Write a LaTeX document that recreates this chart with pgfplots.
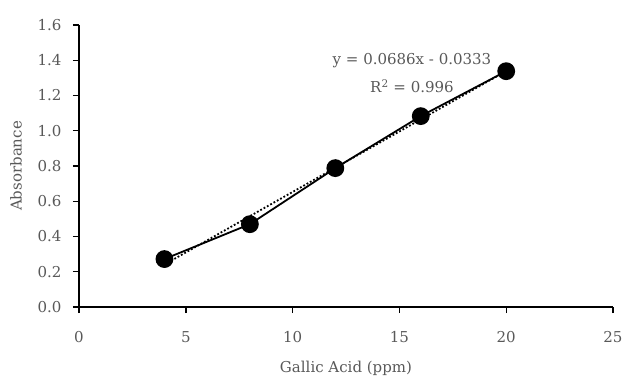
\documentclass[border=0pt]{standalone}
\usepackage{pgfplots}
\pgfplotsset{compat=1.18}
\usepackage{fontspec}
\setmainfont{DejaVu Serif}
\definecolor{txt}{HTML}{595959}
\newcommand{\f}{\fontsize{15}{18}\selectfont}
\begin{document}
\begin{tikzpicture}
\begin{axis}[
  scale only axis, width=534pt, height=282pt,
  at={(0,0)}, anchor=south west,
  xmin=0, xmax=25, ymin=0, ymax=1.6,
  xtick={0,5,...,25}, ytick={0,0.2,...,1.6},
  axis x line*=bottom, axis y line*=left,
  axis line style={black, line width=1.4pt, -},
  tick style={black, line width=1.4pt},
  tick align=outside, major tick length=6pt,
  xticklabel style={font=\f, text=txt, yshift=-15pt},
  yticklabel style={font=\f, text=txt, xshift=-8pt},
  /pgf/number format/assume math mode=true,
  yticklabel={\pgfmathprintnumber[fixed,fixed zerofill,precision=1]{\tick}},
  xlabel={Gallic Acid (ppm)}, ylabel={Absorbance},
  xlabel style={font=\f, text=txt, yshift=-11pt},
  ylabel style={font=\f, text=txt, yshift=9pt},
  clip=false,
]
\addplot[black, line width=1.8pt, mark=*, mark size=8pt] coordinates {
  (4,0.272) (8,0.470) (12,0.788) (16,1.083) (20,1.338)
};
\addplot[black, line width=1.8pt, dotted] coordinates {
  (4,0.241) (20,1.339)
};
\node[font=\f, text=txt] at (axis cs:15.59,1.396) {y = 0.0686x - 0.0333};
\node[font=\f, text=txt] at (axis cs:15.59,1.254) {R\textsuperscript{2} = 0.996};
\end{axis}
\pgfresetboundingbox
\path[use as bounding box] (-79pt,-69pt) rectangle (547pt,307pt);
\end{tikzpicture}
\end{document}
